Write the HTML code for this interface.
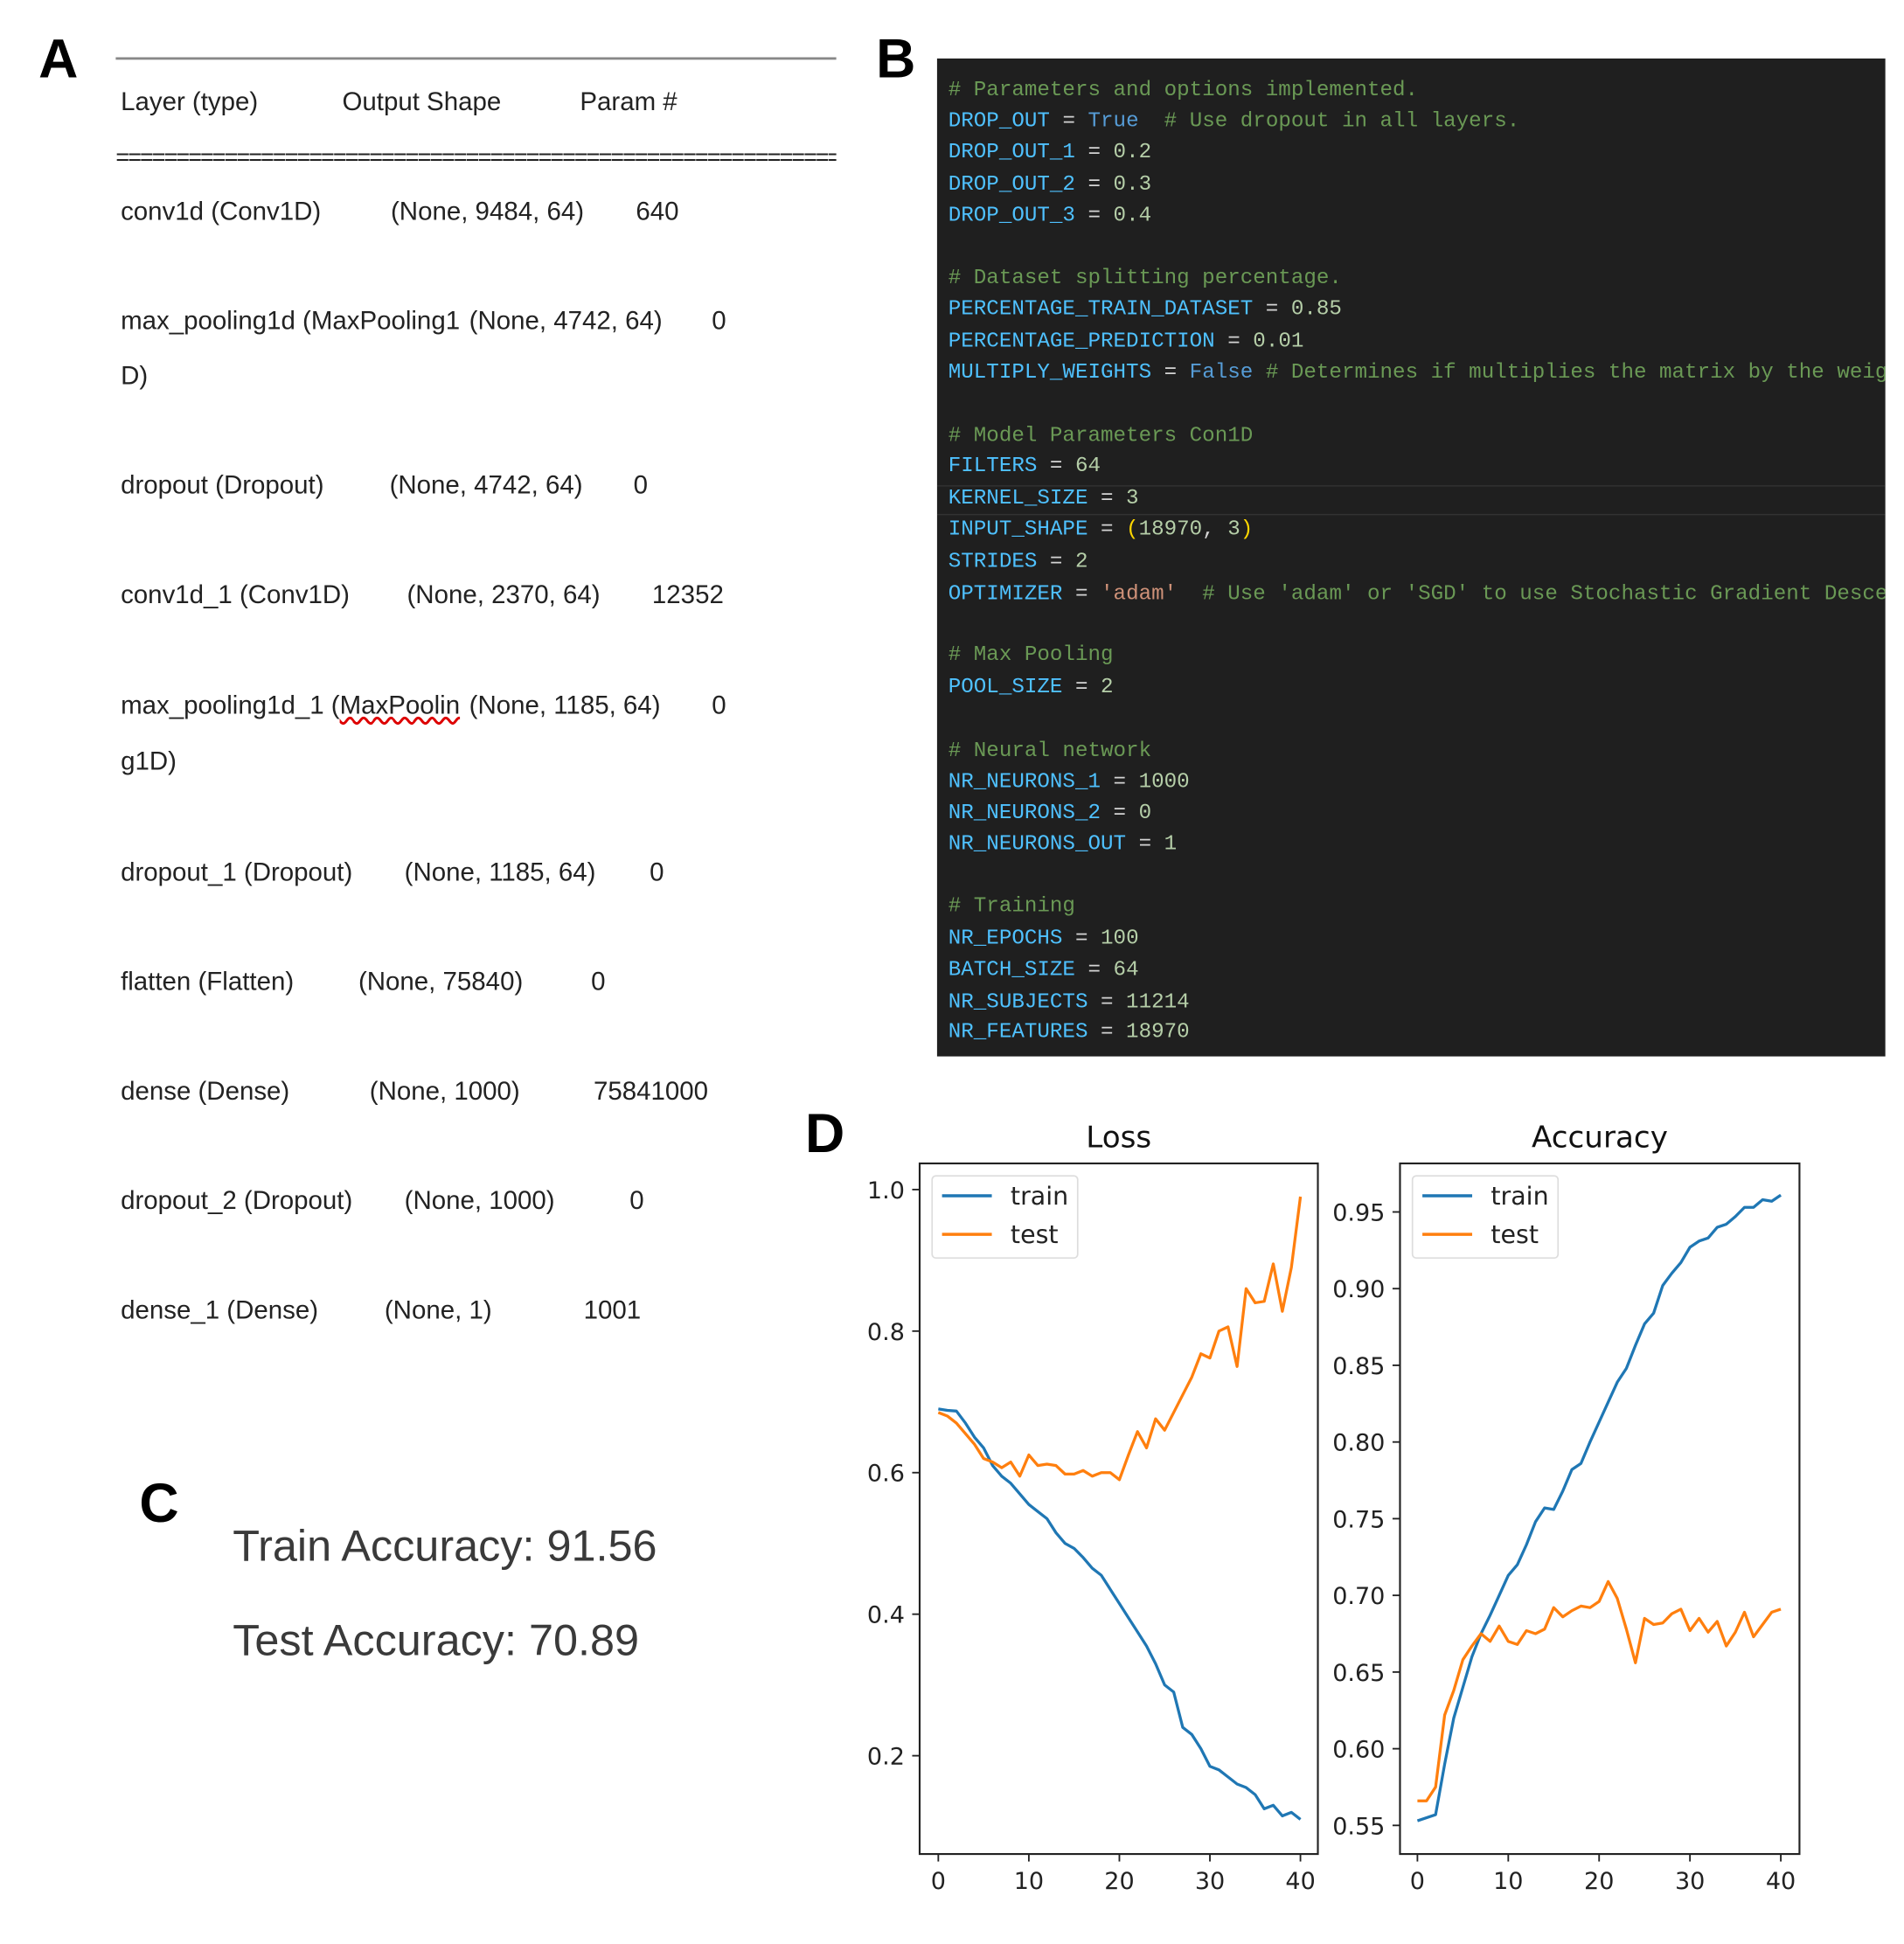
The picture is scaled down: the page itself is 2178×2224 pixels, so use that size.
<!DOCTYPE html>
<html><head><meta charset="utf-8">
<style>
html,body{margin:0;padding:0;background:#fff;}
body{width:2178px;height:2223px;overflow:hidden;position:relative;}
#stage{position:absolute;left:0;top:0;width:1530px;height:1562px;transform:scale(1.42353);transform-origin:0 0;font-family:"Liberation Sans",sans-serif;}
.t{position:absolute;white-space:nowrap;transform:translateY(-50%);line-height:1;}
.lab{font-weight:bold;font-size:44px;color:#000;}
.a{font-size:20.7px;color:#222;}
#code{position:absolute;left:753px;top:47px;width:762px;height:802px;background:#1f1f1f;overflow:hidden;}
#code .l{position:absolute;left:9px;white-space:pre;font-family:"Liberation Mono",monospace;font-size:17px;line-height:1;transform:translateY(-50%);color:#d4d4d4;}
.c{color:#6a9955}.v{color:#4fc1ff}.n{color:#b5cea8}.k{color:#569cd6}.s{color:#ce9178}.p{color:#ffd700}
.acc{font-size:35.4px;color:#3a3a3a;}
</style></head><body>
<div id="stage">
<div class="t lab" style="left:31px;top:48px">A</div>
<div class="t lab" style="left:704px;top:48px">B</div>
<div class="t lab" style="left:112px;top:1209px">C</div>
<div class="t lab" style="left:647px;top:912px">D</div>

<div>
<div style="position:absolute;left:93px;top:46px;width:579px;height:2px;background:#888"></div>
<div class="t a" style="left:97px;top:83px">Layer (type)</div>
<div class="t a" style="left:275px;top:83px">Output Shape</div>
<div class="t a" style="left:466px;top:83px">Param #</div>
<div class="t a" style="left:93px;top:127px;width:579px;overflow:hidden;letter-spacing:-1.4px;font-size:19px">==============================================================================</div>
<div class="t a" style="left:97px;top:171px">conv1d (Conv1D)</div><div class="t a" style="left:314px;top:171px">(None, 9484, 64)</div><div class="t a" style="left:511px;top:171px">640</div>
<div class="t a" style="left:97px;top:259px">max_pooling1d (MaxPooling1</div><div class="t a" style="left:377px;top:259px">(None, 4742, 64)</div><div class="t a" style="left:572px;top:259px">0</div>
<div class="t a" style="left:97px;top:303px">D)</div>
<div class="t a" style="left:97px;top:391px">dropout (Dropout)</div><div class="t a" style="left:313px;top:391px">(None, 4742, 64)</div><div class="t a" style="left:509px;top:391px">0</div>
<div class="t a" style="left:97px;top:479px">conv1d_1 (Conv1D)</div><div class="t a" style="left:327px;top:479px">(None, 2370, 64)</div><div class="t a" style="left:524px;top:479px">12352</div>
<div class="t a" style="left:97px;top:568px">max_pooling1d_1 (<span style="text-decoration:underline wavy #d00">MaxPoolin</span></div><div class="t a" style="left:377px;top:568px">(None, 1185, 64)</div><div class="t a" style="left:572px;top:568px">0</div>
<div class="t a" style="left:97px;top:613px">g1D)</div>
<div class="t a" style="left:97px;top:702px">dropout_1 (Dropout)</div><div class="t a" style="left:325px;top:702px">(None, 1185, 64)</div><div class="t a" style="left:522px;top:702px">0</div>
<div class="t a" style="left:97px;top:790px">flatten (Flatten)</div><div class="t a" style="left:288px;top:790px">(None, 75840)</div><div class="t a" style="left:475px;top:790px">0</div>
<div class="t a" style="left:97px;top:878px">dense (Dense)</div><div class="t a" style="left:297px;top:878px">(None, 1000)</div><div class="t a" style="left:477px;top:878px">75841000</div>
<div class="t a" style="left:97px;top:966px">dropout_2 (Dropout)</div><div class="t a" style="left:325px;top:966px">(None, 1000)</div><div class="t a" style="left:506px;top:966px">0</div>
<div class="t a" style="left:97px;top:1054px">dense_1 (Dense)</div><div class="t a" style="left:309px;top:1054px">(None, 1)</div><div class="t a" style="left:469px;top:1054px">1001</div>
</div>

<div id="code">
<div style="position:absolute;left:0;top:343px;width:762px;height:22px;border-top:1px solid #333;border-bottom:1px solid #333"></div>
<div class="l" style="top:26px"><span class="c"># Parameters and options implemented.</span></div>
<div class="l" style="top:51px"><span class="v">DROP_OUT</span> = <span class="k">True</span>  <span class="c"># Use dropout in all layers.</span></div>
<div class="l" style="top:76px"><span class="v">DROP_OUT_1</span> = <span class="n">0.2</span></div>
<div class="l" style="top:102px"><span class="v">DROP_OUT_2</span> = <span class="n">0.3</span></div>
<div class="l" style="top:127px"><span class="v">DROP_OUT_3</span> = <span class="n">0.4</span></div>
<div class="l" style="top:177px"><span class="c"># Dataset splitting percentage.</span></div>
<div class="l" style="top:202px"><span class="v">PERCENTAGE_TRAIN_DATASET</span> = <span class="n">0.85</span></div>
<div class="l" style="top:228px"><span class="v">PERCENTAGE_PREDICTION</span> = <span class="n">0.01</span></div>
<div class="l" style="top:253px"><span class="v">MULTIPLY_WEIGHTS</span> = <span class="k">False</span> <span class="c"># Determines if multiplies the matrix by the weights</span></div>
<div class="l" style="top:304px"><span class="c"># Model Parameters Con1D</span></div>
<div class="l" style="top:328px"><span class="v">FILTERS</span> = <span class="n">64</span></div>
<div class="l" style="top:354px"><span class="v">KERNEL_SIZE</span> = <span class="n">3</span></div>
<div class="l" style="top:379px"><span class="v">INPUT_SHAPE</span> = <span class="p">(</span><span class="n">18970</span>, <span class="n">3</span><span class="p">)</span></div>
<div class="l" style="top:405px"><span class="v">STRIDES</span> = <span class="n">2</span></div>
<div class="l" style="top:431px"><span class="v">OPTIMIZER</span> = <span class="s">'adam'</span>  <span class="c"># Use 'adam' or 'SGD' to use Stochastic Gradient Descent</span></div>
<div class="l" style="top:480px"><span class="c"># Max Pooling</span></div>
<div class="l" style="top:506px"><span class="v">POOL_SIZE</span> = <span class="n">2</span></div>
<div class="l" style="top:557px"><span class="c"># Neural network</span></div>
<div class="l" style="top:582px"><span class="v">NR_NEURONS_1</span> = <span class="n">1000</span></div>
<div class="l" style="top:607px"><span class="v">NR_NEURONS_2</span> = <span class="n">0</span></div>
<div class="l" style="top:632px"><span class="v">NR_NEURONS_OUT</span> = <span class="n">1</span></div>
<div class="l" style="top:682px"><span class="c"># Training</span></div>
<div class="l" style="top:708px"><span class="v">NR_EPOCHS</span> = <span class="n">100</span></div>
<div class="l" style="top:733px"><span class="v">BATCH_SIZE</span> = <span class="n">64</span></div>
<div class="l" style="top:759px"><span class="v">NR_SUBJECTS</span> = <span class="n">11214</span></div>
<div class="l" style="top:783px"><span class="v">NR_FEATURES</span> = <span class="n">18970</span></div>
</div>

<div class="t acc" style="left:187px;top:1243px">Train Accuracy: 91.56</div>
<div class="t acc" style="left:187px;top:1319px">Test Accuracy: 70.89</div>

<svg id="charts" width="1530" height="1562" style="position:absolute;left:0;top:0"></svg>
</div>
<script>
const epochs = [];
for (let i = 0; i <= 40; i++) epochs.push(i);
const lossTrain = [0.69,0.688,0.687,0.67,0.65,0.635,0.61,0.595,0.585,0.57,0.555,0.545,0.535,0.515,0.50,0.493,0.48,0.465,0.455,0.435,0.415,0.395,0.375,0.355,0.33,0.30,0.29,0.24,0.23,0.21,0.185,0.18,0.17,0.16,0.155,0.145,0.125,0.13,0.115,0.12,0.11];
const lossTest = [0.685,0.68,0.67,0.655,0.64,0.62,0.615,0.607,0.615,0.595,0.625,0.61,0.612,0.61,0.598,0.598,0.603,0.595,0.6,0.6,0.59,0.625,0.658,0.635,0.676,0.66,0.685,0.71,0.735,0.768,0.762,0.8,0.806,0.75,0.86,0.84,0.842,0.895,0.828,0.89,0.99];
const accTrain = [0.553,0.555,0.557,0.59,0.62,0.64,0.66,0.675,0.687,0.70,0.713,0.72,0.733,0.748,0.757,0.756,0.768,0.782,0.786,0.80,0.813,0.826,0.839,0.848,0.863,0.877,0.884,0.902,0.91,0.917,0.927,0.931,0.933,0.94,0.942,0.947,0.953,0.953,0.958,0.957,0.961];
const accTest = [0.566,0.566,0.575,0.622,0.638,0.658,0.667,0.675,0.67,0.68,0.67,0.668,0.677,0.675,0.678,0.692,0.686,0.69,0.693,0.692,0.696,0.709,0.698,0.678,0.656,0.685,0.681,0.682,0.688,0.691,0.677,0.685,0.676,0.683,0.667,0.676,0.689,0.673,0.681,0.689,0.691];
const xTicks = [0,10,20,30,40];
const lossTicks = [0.2,0.4,0.6,0.8,1.0];
const lossTickLabels = ["0.2","0.4","0.6","0.8","1.0"];
const accTicks = [0.55,0.60,0.65,0.70,0.75,0.80,0.85,0.90,0.95];
const accTickLabels = ["0.55","0.60","0.65","0.70","0.75","0.80","0.85","0.90","0.95"];

const NS = "http://www.w3.org/2000/svg";
const svg = document.getElementById('charts');
function mk(tag, attrs, parent) {
  const e = document.createElementNS(NS, tag);
  for (const k in attrs) e.setAttribute(k, attrs[k]);
  (parent || svg).appendChild(e);
  return e;
}
function panel(cfg) {
  const g = mk('g', {});
  
  
  const xs = v => cfg.x0 + (v - 0) / 40 * (cfg.x40 - cfg.x0);
  const ys = v => cfg.yA + (v - cfg.vA) / (cfg.vB - cfg.vA) * (cfg.yB - cfg.yA);
  const title = mk('text', {x: (cfg.L + cfg.R) / 2, y: 922, 'text-anchor': 'middle', 'font-size': 24, fill: '#111', 'font-family': 'DejaVu Sans, sans-serif'}, g);
  title.textContent = cfg.title;
  
  
  xTicks.forEach(t => {
    mk('line', {x1: xs(t), x2: xs(t), y1: cfg.B, y2: cfg.B + 6, stroke: '#222', 'stroke-width': 1.3}, g);
    const tx = mk('text', {x: xs(t), y: cfg.B + 28, 'text-anchor': 'middle', 'font-size': 19, fill: '#222', 'font-family': 'DejaVu Sans, sans-serif'}, g);
    tx.textContent = String(t);
    
    
  });
  cfg.ticks.forEach((t, i) => {
    mk('line', {x1: cfg.L - 6, x2: cfg.L, y1: ys(t), y2: ys(t), stroke: '#222', 'stroke-width': 1.3}, g);
    const ty = mk('text', {x: cfg.L - 12, y: ys(t) + 7, 'text-anchor': 'end', 'font-size': 19, fill: '#222', 'font-family': 'DejaVu Sans, sans-serif'}, g);
    ty.textContent = cfg.labels[i];
    
    
  });
  [[cfg.train, '#1f77b4', 'train-line'], [cfg.test, '#ff7f0e', 'test-line']].forEach(s => {
    const d = s[0].map((v, i) => (i ? 'L' : 'M') + xs(epochs[i]).toFixed(2) + ' ' + ys(v).toFixed(2)).join(' ');
    const p = mk('path', {d: d, fill: 'none', stroke: s[1], 'stroke-width': 2.3, 'stroke-linejoin': 'round'}, g);
    
    
  });
  const box = mk('rect', {x: cfg.L, y: 935, width: cfg.R - cfg.L, height: cfg.B - 935, fill: 'none', stroke: '#222', 'stroke-width': 1.5}, g);
  
  
  const lg = mk('g', {}, g);
  
  
  mk('rect', {x: cfg.L + 10, y: 945, width: 117, height: 66, rx: 3, fill: '#fff', stroke: '#ddd', 'stroke-width': 1.2}, lg);
  [['train', '#1f77b4', 961], ['test', '#ff7f0e', 992]].forEach(e => {
    mk('line', {x1: cfg.L + 18, x2: cfg.L + 58, y1: e[2], y2: e[2], stroke: e[1], 'stroke-width': 2.5}, lg);
    const lt = mk('text', {x: cfg.L + 73, y: e[2] + 7, 'font-size': 20, fill: '#222', 'font-family': 'DejaVu Sans, sans-serif'}, lg);
    lt.textContent = e[0];
    
    
  });
}
panel({name: 'loss-chart', title: 'Loss', L: 739, R: 1059, B: 1490, x0: 754, x40: 1045, vA: 1.0, yA: 956, vB: 0.2, yB: 1411, ticks: lossTicks, labels: lossTickLabels, train: lossTrain, test: lossTest});
panel({name: 'accuracy-chart', title: 'Accuracy', L: 1125, R: 1446, B: 1490, x0: 1139, x40: 1431, vA: 0.95, yA: 974, vB: 0.55, yB: 1467, ticks: accTicks, labels: accTickLabels, train: accTrain, test: accTest});
</script>
</body></html>
